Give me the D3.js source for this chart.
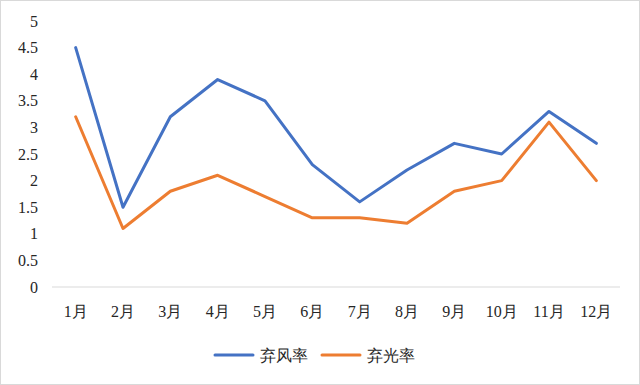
<!DOCTYPE html>
<html>
<head>
<meta charset="utf-8">
<script src="https://cdn.jsdelivr.net/npm/d3@7"></script>
<style>
  body { margin: 0; background: #fff; }
  #container text { font-family: "Times New Roman", "Liberation Serif", "DejaVu Serif", serif; font-size: 16px; }
</style>
</head>
<body>
<div id="container"></div>
<script>
const months = ['1月','2月','3月','4月','5月','6月','7月','8月','9月','10月','11月','12月'];
const windCurtail = [4.5, 1.5, 3.2, 3.9, 3.5, 2.3, 1.6, 2.2, 2.7, 2.5, 3.3, 2.7];
const solarCurtail = [3.2, 1.1, 1.8, 2.1, 1.7, 1.3, 1.3, 1.2, 1.8, 2.0, 3.1, 2.0];
const yTicks = [0, 0.5, 1, 1.5, 2, 2.5, 3, 3.5, 4, 4.5, 5];
const seriesNames = ['弃风率', '弃光率'];
const colors = ['#4472C4', '#ED7D31'];

const width = 640, height = 385;
const svg = d3.select('#container').append('svg')
  .attr('width', width)
  .attr('height', height);

svg.append('rect')
  .attr('x', 0.5).attr('y', 0.5)
  .attr('width', width - 1).attr('height', height - 1)
  .attr('fill', '#fff').attr('stroke', '#d9d9d9');

const x = d3.scalePoint().domain(months).range([52, 620]).padding(0.5);
const y = d3.scaleLinear().domain([0, 5]).range([287, 21]);

// y axis labels, no axis line
svg.append('g').selectAll('text')
  .data(yTicks)
  .enter().append('text')
  .attr('x', 38)
  .attr('y', d => y(d))
  .attr('dy', '0.35em')
  .attr('text-anchor', 'end')
  .attr('fill', '#262626')
  .text(d => d);

// x axis line
svg.append('line')
  .attr('x1', 52).attr('x2', 620)
  .attr('y1', y(0)).attr('y2', y(0))
  .attr('stroke', '#d9d9d9').attr('stroke-width', 1);

svg.append('g').selectAll('text')
  .data(months)
  .enter().append('text')
  .attr('x', d => x(d))
  .attr('y', 311)
  .attr('dy', '0.35em')
  .attr('text-anchor', 'middle')
  .attr('fill', '#262626')
  .text(d => d);

const line = d3.line()
  .x((d, i) => x(months[i]))
  .y(d => y(d));

[windCurtail, solarCurtail].forEach((s, i) => {
  svg.append('path')
    .datum(s)
    .attr('d', line)
    .attr('fill', 'none')
    .attr('stroke', colors[i])
    .attr('stroke-width', 3)
    .attr('stroke-linejoin', 'round')
    .attr('stroke-linecap', 'round');
});

// legend
const legend = svg.append('g');
const legendX = [215, 322];
seriesNames.forEach((name, i) => {
  legend.append('line')
    .attr('x1', legendX[i]).attr('x2', legendX[i] + 38)
    .attr('y1', 355).attr('y2', 355)
    .attr('stroke', colors[i]).attr('stroke-width', 3)
    .attr('stroke-linecap', 'round');
  legend.append('text')
    .attr('x', legendX[i] + 45)
    .attr('y', 355)
    .attr('dy', '0.35em')
    .attr('fill', '#262626')
    .text(name);
});
</script>
</body>
</html>
